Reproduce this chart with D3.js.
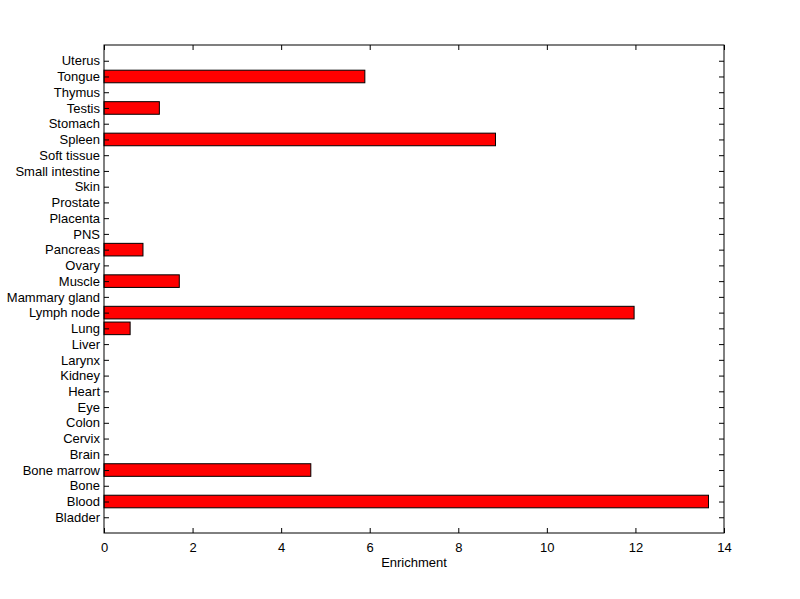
<!DOCTYPE html>
<html><head><meta charset="utf-8">
<script src="https://cdn.jsdelivr.net/npm/d3@7"></script>
<style>body{margin:0;background:#fff}svg{display:block}text{font-family:"Liberation Sans",Arial,sans-serif;font-size:13px;fill:#000}</style>
</head><body>
<script>
const categories = ["Bladder","Blood","Bone","Bone marrow","Brain","Cervix","Colon","Eye","Heart","Kidney","Larynx","Liver","Lung","Lymph node","Mammary gland","Muscle","Ovary","Pancreas","PNS","Placenta","Prostate","Skin","Small intestine","Soft tissue","Spleen","Stomach","Testis","Thymus","Tongue","Uterus"];
const values = [0,13.65,0,4.67,0,0,0,0,0,0,0,0,0.59,11.97,0,1.70,0,0.88,0,0,0,0,0,0,8.84,0,1.25,0,5.89,0];
const xTicks = [0,2,4,6,8,10,12,14];
const xLabel = "Enrichment";

const W=800,H=599, L=104, R=724, T=45, B=533;
const svg=d3.select("body").append("svg").attr("width",W).attr("height",H);
const x=d3.scaleLinear().domain([0,14]).range([L,R]);
const y=d3.scaleLinear().domain([0,categories.length+1]).range([B,T]);
const step=y(0)-y(1), bh=step*0.8;

const bars=svg.append("g");
bars.selectAll("rect").data(values.map((v,i)=>({v,i})).filter(d=>d.v>0)).join("rect")
  .attr("x",x(0)).attr("y",d=>y(d.i+1)-bh/2).attr("width",d=>x(d.v)-x(0)).attr("height",bh)
  .attr("fill","#ff0000").attr("stroke","#000").attr("stroke-width",1);

const tl=5;
const axB=d3.axisBottom(x).tickValues(xTicks).tickSize(-tl).tickPadding(10).tickFormat(d3.format("d"));
const axT=d3.axisTop(x).tickValues(xTicks).tickSize(-tl).tickFormat("");
const yTickVals=categories.map((c,i)=>i+1);
const axL=d3.axisLeft(y).tickValues(yTickVals).tickSize(-tl).tickPadding(4).tickFormat(d=>categories[d-1]);
const axR=d3.axisRight(y).tickValues(yTickVals).tickSize(-tl).tickFormat("");
function style(g){g.select(".domain").remove();g.selectAll("line").attr("stroke","#000");g.selectAll("text").attr("fill","#000").style("font-size","13px").style("font-family","Liberation Sans, Arial, sans-serif");}
svg.append("g").attr("transform",`translate(0,${B})`).call(axB).call(style);
svg.append("g").attr("transform",`translate(0,${T})`).call(axT).call(style);
svg.append("g").attr("transform",`translate(${L},0)`).call(axL).call(style);
svg.append("g").attr("transform",`translate(${R},0)`).call(axR).call(style);
svg.append("rect").attr("x",L).attr("y",T).attr("width",R-L).attr("height",B-T).attr("fill","none").attr("stroke","#000").attr("stroke-width",1);
svg.append("text").attr("x",(L+R)/2).attr("y",567).attr("text-anchor","middle").text(xLabel);
</script>
</body></html>
